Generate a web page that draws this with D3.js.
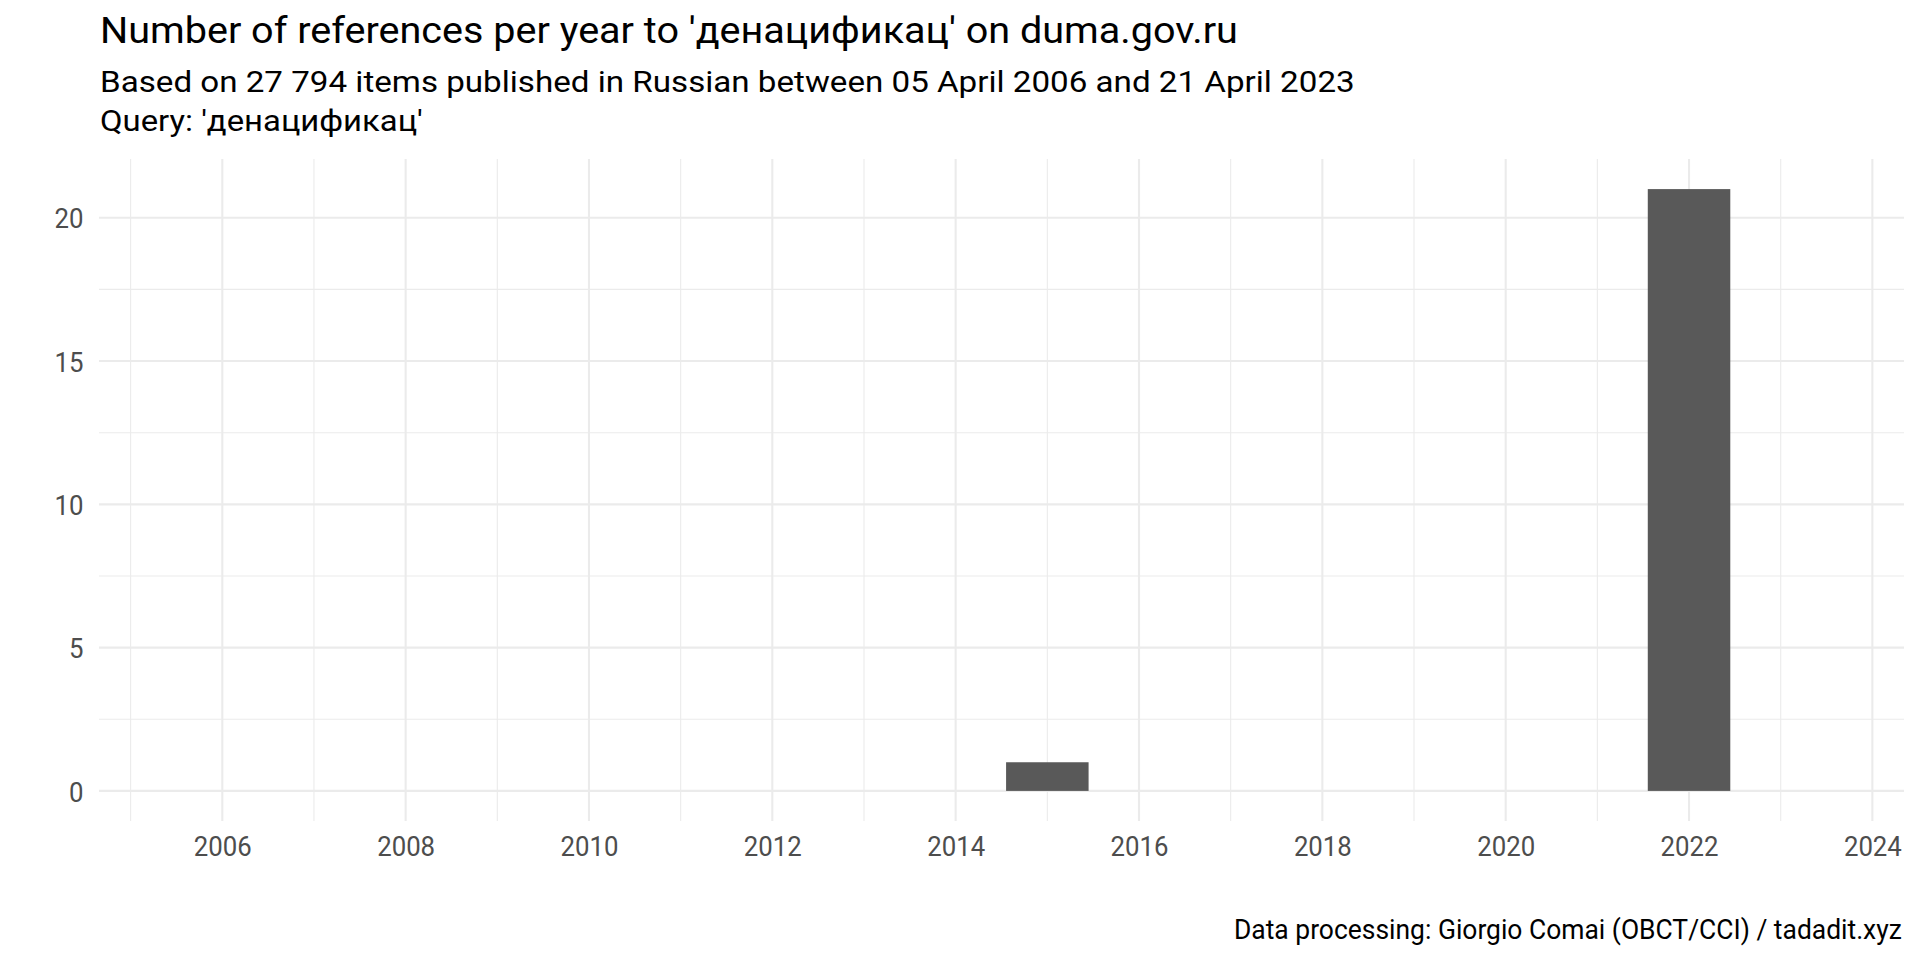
<!DOCTYPE html>
<html>
<head>
<meta charset="utf-8">
<script src="https://cdn.jsdelivr.net/npm/d3@7"></script>
<style>
  html, body { margin: 0; padding: 0; background: #ffffff; }
  svg { display: block; }
  text { font-family: "Roboto", "Noto Sans", sans-serif; }
</style>
</head>
<body>
<svg id="chart" width="1920" height="960"></svg>
<script>
// ---- Data ----
const years = [2006, 2007, 2008, 2009, 2010, 2011, 2012, 2013, 2014, 2015, 2016, 2017, 2018, 2019, 2020, 2021, 2022, 2023];
const counts = [0, 0, 0, 0, 0, 0, 0, 0, 0, 1, 0, 0, 0, 0, 0, 0, 21, 0];
const xMajorTicks = [2006, 2008, 2010, 2012, 2014, 2016, 2018, 2020, 2022, 2024];
const xMinorTicks = [2005, 2007, 2009, 2011, 2013, 2015, 2017, 2019, 2021, 2023];
const yMajorTicks = [0, 5, 10, 15, 20];
const yMinorTicks = [2.5, 7.5, 12.5, 17.5];

const titleText = "Number of references per year to 'денацификац' on duma.gov.ru";
const subtitleLines = ["Based on 27 794 items published in Russian between 05 April 2006 and 21 April 2023", "Query: 'денацификац'"];
const captionText = "Data processing: Giorgio Comai (OBCT/CCI) / tadadit.xyz";

// ---- Layout ----
const panel = { left: 99, right: 1904, top: 159, bottom: 821 };
const barWidth = 0.9;

const svg = d3.select("#chart");

// ggplot-like expansion (5%)
const xLo = d3.min(years) - barWidth / 2, xHi = d3.max(years) + barWidth / 2;
const xPad = (xHi - xLo) * 0.05;
const x = d3.scaleLinear().domain([xLo - xPad, xHi + xPad]).range([panel.left, panel.right]);

const yMax = d3.max(counts);
const yPad = yMax * 0.05;
const y = d3.scaleLinear().domain([0 - yPad, yMax + yPad]).range([panel.bottom, panel.top]);

const grid = svg.append("g");
// minor gridlines
grid.selectAll(".ymin").data(yMinorTicks).enter().append("line")
  .attr("x1", panel.left).attr("x2", panel.right)
  .attr("y1", d => y(d)).attr("y2", d => y(d))
  .attr("stroke", "#ebebeb").attr("stroke-width", 1.1);
grid.selectAll(".xmin").data(xMinorTicks).enter().append("line")
  .attr("y1", panel.top).attr("y2", panel.bottom)
  .attr("x1", d => x(d)).attr("x2", d => x(d))
  .attr("stroke", "#ebebeb").attr("stroke-width", 1.1);
// major gridlines
grid.selectAll(".ymaj").data(yMajorTicks).enter().append("line")
  .attr("x1", panel.left).attr("x2", panel.right)
  .attr("y1", d => y(d)).attr("y2", d => y(d))
  .attr("stroke", "#ebebeb").attr("stroke-width", 2.1);
grid.selectAll(".xmaj").data(xMajorTicks).enter().append("line")
  .attr("y1", panel.top).attr("y2", panel.bottom)
  .attr("x1", d => x(d)).attr("x2", d => x(d))
  .attr("stroke", "#ebebeb").attr("stroke-width", 2.1);

// bars
const data = years.map((yr, i) => ({ year: yr, n: counts[i] }));
svg.append("g").selectAll("rect").data(data).enter().append("rect")
  .attr("x", d => x(d.year - barWidth / 2))
  .attr("width", d => x(d.year + barWidth / 2) - x(d.year - barWidth / 2))
  .attr("y", d => y(Math.max(0, d.n)))
  .attr("height", d => Math.abs(y(0) - y(d.n)))
  .attr("fill", "#595959");

// axes (no lines, only labels)
const condense = 0.92;
const xAxis = d3.axisBottom(x).tickValues(xMajorTicks).tickFormat(d3.format("d")).tickSize(0).tickPadding(0);
const gx = svg.append("g").attr("transform", `translate(0,${panel.bottom})`).call(xAxis);
gx.select(".domain").remove();
gx.selectAll("text")
  .attr("y", 35).attr("dy", null)
  .attr("fill", "#4d4d4d").attr("font-size", 28)
  .attr("font-family", "Roboto");

const yAxis = d3.axisLeft(y).tickValues(yMajorTicks).tickFormat(d3.format("d")).tickSize(0).tickPadding(0);
const gy = svg.append("g").attr("transform", `translate(${panel.left},0)`).call(yAxis);
gy.select(".domain").remove();
gy.selectAll("text")
  .attr("x", -15.5).attr("dy", "0.36em")
  .attr("fill", "#4d4d4d").attr("font-size", 28)
  .attr("font-family", "Roboto");

[gx, gy].forEach(g => g.selectAll("text").each(function () {
  const L = this.getComputedTextLength();
  d3.select(this).attr("textLength", L * condense).attr("lengthAdjust", "spacingAndGlyphs");
}));

// helper: draw text horizontally squeezed to a target width via transform
function squeezedText(str, left, baseline, size, width) {
  const t = svg.append("text").attr("x", 0).attr("y", 0)
    .attr("font-size", size).attr("fill", "#000").text(str);
  const L = t.node().getComputedTextLength();
  t.attr("transform", `translate(${left},${baseline}) scale(${width / L},1)`);
  return t;
}

// titles
squeezedText(titleText, 100, 43, 37, 1138);
const subWidths = [1255, 323];
const subY = [92, 131];
subtitleLines.forEach((s, i) => squeezedText(s, 100, subY[i], 29.5, subWidths[i]));

const capW = 668;
squeezedText(captionText, 1902 - capW, 939, 27.5, capW);
</script>
</body>
</html>
